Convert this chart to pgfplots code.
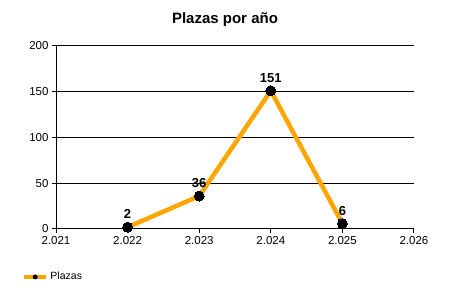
\documentclass[border=0pt]{standalone}
\usepackage{pgfplots}
\pgfplotsset{compat=1.18}
\usepackage{fontspec}
\setmainfont{Liberation Sans}
\definecolor{plorange}{RGB}{255,165,0}
\begin{document}
\begin{tikzpicture}
\useasboundingbox (0pt,0pt) rectangle (450pt,300pt);
\node[anchor=base,font=\fontsize{15}{18}\selectfont\bfseries] at (225pt,276pt) {Plazas por año};
\begin{axis}[
 at={(56pt,71pt)}, anchor=south west,
 scale only axis, width=358pt, height=183pt,
 xmin=2021, xmax=2026, ymin=0, ymax=200,
 xtick={2021,2022,2023,2024,2025,2026}, ytick={0,50,100,150,200},
 xticklabels={2.021,2.022,2.023,2.024,2.025,2.026},
 scaled x ticks=false,
 axis x line*=bottom, axis y line*=left,
 axis line style={-, line width=1pt, black},
 tick align=outside, major tick length=4pt,
 tick style={black, line width=1pt},
 ymajorgrids, grid style={black, line width=1pt},
 ticklabel style={font=\fontsize{11.5}{13}\selectfont},
 /pgf/number format/assume math mode=true,
 clip=false,
 legend style={draw=none, fill=none, inner sep=0pt, outer sep=0pt, anchor=west,
   at={(axis description cs:-0.095,-0.262)}, font=\fontsize{10.5}{12}\selectfont},
 legend cell align=left,
 legend image code/.code={\draw[plorange, line width=4.5pt] (0pt,0pt) -- (22pt,0pt);
   \path[fill=black, draw=none] (11pt,0pt) circle[radius=2.5pt];},
]
\addplot[plorange, line width=4.5pt, mark=*, mark size=5pt,
  mark options={fill=black, draw=black, line width=0pt},
  nodes near coords,
  nodes near coords style={font=\fontsize{13}{15}\selectfont\bfseries, anchor=base, yshift=8.5pt, text=black}]
coordinates {(2022,2) (2023,36) (2024,151) (2025,6)};
\addlegendentry{Plazas}
\end{axis}
\end{tikzpicture}
\end{document}
